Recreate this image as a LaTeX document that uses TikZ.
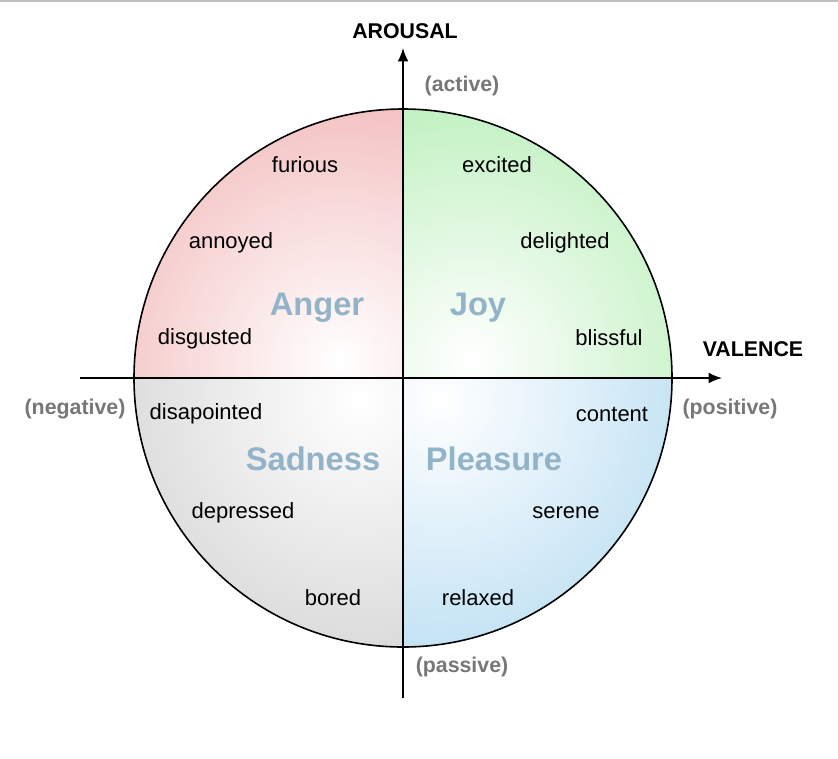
\documentclass[tikz,border=0pt]{standalone}
\usepackage{fontspec}
\setmainfont{Liberation Sans}
\usetikzlibrary{arrows.meta}
\definecolor{catc}{HTML}{93B3C9}
\definecolor{grayt}{HTML}{777777}
\definecolor{pinkc}{HTML}{F2B8B8}
\definecolor{greenc}{HTML}{B8EFB8}
\definecolor{bluec}{HTML}{B8DDF2}
\definecolor{grayc}{HTML}{D4D4D4}
\begin{document}
\begin{tikzpicture}[x=0.75pt,y=-0.75pt,
 word/.style={font=\fontsize{16.5}{18}\selectfont},
 cat/.style={font=\fontsize{24.5}{26}\selectfont\bfseries,text=catc},
 axl/.style={font=\fontsize{16}{18}\selectfont\bfseries},
 pole/.style={font=\fontsize{16}{18}\selectfont\bfseries,text=grayt}]
\useasboundingbox (0,0) rectangle (838,758);
\draw[gray!50,line width=1pt] (0,1) -- (838,1);
\coordinate (c) at (403,378);
\begin{scope}
 \clip (c) circle (269);
 \begin{scope}\clip (134,108) rectangle (403,378);
  \shade[inner color=white,outer color=pinkc] (340,360) circle (300);\end{scope}
 \begin{scope}\clip (403,108) rectangle (673,378);
  \shade[inner color=white,outer color=greenc] (470,360) circle (300);\end{scope}
 \begin{scope}\clip (134,378) rectangle (403,648);
  \shade[inner color=white,outer color=grayc] (360,400) circle (300);\end{scope}
 \begin{scope}\clip (403,378) rectangle (673,648);
  \shade[inner color=white,outer color=bluec] (440,400) circle (300);\end{scope}
\end{scope}
\draw[line width=1.2pt] (c) circle (269);
\coordinate (xl) at (80,378); \coordinate (xr) at (722,378);
\coordinate (yb) at (403,698); \coordinate (yt) at (403,48);
\draw[line width=1.2pt,-{Latex[length=10pt,width=8pt]}] (xl) -- (xr);
\draw[line width=1.2pt,-{Latex[length=10pt,width=8pt]}] (yb) -- (yt);
\node[axl] (ar) at (405,31) {AROUSAL};
\node[axl] (va) at (753,349) {VALENCE};
\node[pole] (act) at (462,86) {(active)};
\node[pole] (pas) at (462,667) {(passive)};
\node[pole] (neg) at (75,409) {(negative)};
\node[pole] (pos) at (730,409) {(positive)};
\node[cat] (anger) at (317,308) {Anger};
\node[cat] (joy) at (478,308) {Joy};
\node[cat] (sad) at (313,459) {Sadness};
\node[cat] (ple) at (494,459) {Pleasure};
\node[word] at (305,165) {furious};
\node[word] at (231,243) {annoyed};
\node[word] at (205,339) {disgusted};
\node[word] at (206,414) {disapointed};
\node[word] at (243,513) {depressed};
\node[word] at (333,598) {bored};
\node[word] at (497,165) {excited};
\node[word] at (565,243) {delighted};
\node[word] at (609,338) {blissful};
\node[word] at (612,414) {content};
\node[word] at (566,513) {serene};
\node[word] at (478,598) {relaxed};
\end{tikzpicture}
\end{document}
